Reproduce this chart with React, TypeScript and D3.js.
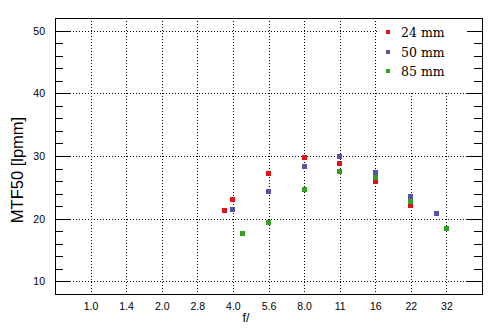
import React from "react";
import * as d3 from "d3";

const stopLabels = ["1.0", "1.4", "2.0", "2.8", "4.0", "5.6", "8.0", "11", "16", "22", "32"];
const nominalStops = [1, 1.4, 2, 2.8, 4, 5.6, 8, 11, 16, 22, 32];

const series = [
  { name: "24 mm", color: "#e01414" },
  { name: "50 mm", color: "#5454a6" },
  { name: "85 mm", color: "#33a021" },
];

const aperture24 = [3.7, 4, 5.6, 8, 11, 16, 22];
const mtf24 = [21.3, 23.0, 27.2, 29.7, 28.8, 25.9, 22.1];
const aperture50 = [4, 5.6, 8, 11, 16, 22, 29];
const mtf50 = [21.4, 24.4, 28.4, 30.0, 27.3, 23.5, 20.8];
const aperture85 = [4.4, 5.6, 8, 11, 16, 22, 32];
const mtf85 = [17.6, 19.4, 24.6, 27.5, 26.6, 22.8, 18.4];

const yMajor = [10, 20, 30, 40, 50];

const W = 494;
const H = 331;
const L = 55;
const R = 482;
const T = 18;
const B = 294;

function stopIndex(f: number): number {
  const i = nominalStops.indexOf(f);
  if (i >= 0) return i;
  return 2 * Math.log2(f);
}

export default function App() {
  const x = d3.scaleLinear().domain([-1, 11]).range([L, R]);
  const y = d3.scaleLinear().domain([8, 52]).range([B, T]);
  const yMinor = d3.range(8, 53, 2).filter((v) => v % 10 !== 0 && v > 8 && v < 52);

  const data = [
    { s: series[0], a: aperture24, v: mtf24 },
    { s: series[1], a: aperture50, v: mtf50 },
    { s: series[2], a: aperture85, v: mtf85 },
  ];

  const sans = "'Liberation Sans', Arial, sans-serif";
  const serif = "'DejaVu Serif', serif";
  const legendY = [32, 51.5, 71];

  return (
    <svg
      width={W}
      height={H}
      style={{ position: "absolute", left: 0, top: 0, display: "block", background: "#fff" }}
      shapeRendering="crispEdges"
    >
      <rect x={0} y={0} width={W} height={H} fill="#fff" />
      {/* grid */}
      {nominalStops.map((f, i) => (
        <line
          key={"gx" + i}
          x1={Math.round(x(stopIndex(f))) + 0.5}
          x2={Math.round(x(stopIndex(f))) + 0.5}
          y1={T}
          y2={B}
          stroke="#000"
          strokeDasharray="1,2"
        />
      ))}
      {yMajor.map((v) => (
        <line
          key={"gy" + v}
          x1={L}
          x2={R}
          y1={Math.round(y(v)) + 0.5}
          y2={Math.round(y(v)) + 0.5}
          stroke="#000"
          strokeDasharray="1,2"
        />
      ))}
      {/* legend background */}
      <rect x={377} y={T + 1} width={R - 377 - 1} height={92 - T} fill="#fff" />
      {/* ticks */}
      {yMajor.map((v) => (
        <g key={"tk" + v}>
          <line x1={L} x2={L + 15} y1={Math.round(y(v)) + 0.5} y2={Math.round(y(v)) + 0.5} stroke="#000" />
          <line x1={R - 15} x2={R} y1={Math.round(y(v)) + 0.5} y2={Math.round(y(v)) + 0.5} stroke="#000" />
        </g>
      ))}
      {yMinor.map((v) => (
        <g key={"mk" + v}>
          <line x1={L} x2={L + 8} y1={Math.round(y(v)) + 0.5} y2={Math.round(y(v)) + 0.5} stroke="#000" />
          <line x1={R - 8} x2={R} y1={Math.round(y(v)) + 0.5} y2={Math.round(y(v)) + 0.5} stroke="#000" />
        </g>
      ))}
      {/* frame */}
      <rect x={L + 0.5} y={T + 0.5} width={R - L} height={B - T} fill="none" stroke="#000" />
      {/* tick labels */}
      {yMajor.map((v) => (
        <text
          key={"yl" + v}
          x={45}
          y={y(v) + 4}
          textAnchor="end"
          fontFamily={sans}
          fontSize={10.5}
          fill="#000"
        >
          {v}
        </text>
      ))}
      {stopLabels.map((lab, i) => (
        <text
          key={"xl" + i}
          x={x(stopIndex(nominalStops[i])) + 0.5}
          y={309.5}
          textAnchor="middle"
          fontFamily={sans}
          fontSize={10.5}
          fill="#000"
        >
          {lab}
        </text>
      ))}
      <text x={246} y={322} textAnchor="middle" fontFamily={sans} fontSize={12.5} fill="#000">
        f/
      </text>
      <text
        transform={`translate(23,170) rotate(-90)`}
        textAnchor="middle"
        fontFamily={sans}
        fontSize={16.5}
        fill="#000"
      >
        MTF50 [lpmm]
      </text>
      {/* points */}
      {data.map((d, si) =>
        d.a.map((f, i) => (
          <rect
            key={"p" + si + "-" + i}
            x={Math.round(x(stopIndex(f)) - 2.5)}
            y={Math.round(y(d.v[i]) - 2.5)}
            width={5}
            height={5}
            fill={d.s.color}
          />
        ))
      )}
      {/* legend */}
      {series.map((s, i) => (
        <g key={"lg" + i}>
          <rect x={386} y={Math.round(legendY[i] - 2)} width={4} height={4} fill={s.color} />
          <text x={401} y={legendY[i] + 5} fontFamily={serif} fontSize={12.5} fill="#000">
            {s.name}
          </text>
        </g>
      ))}
    </svg>
  );
}
